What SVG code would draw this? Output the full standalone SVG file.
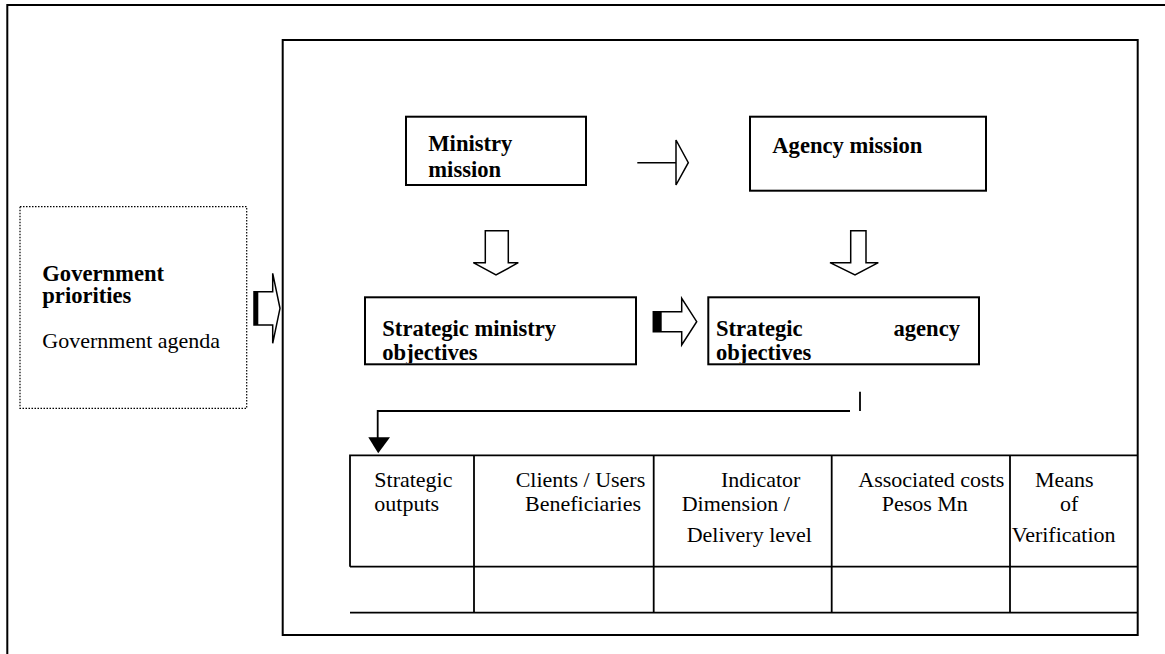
<svg xmlns="http://www.w3.org/2000/svg" width="1165" height="654" viewBox="0 0 1165 654">
<style>
.ln{fill:none;stroke:#000;stroke-width:2}
.tl{fill:none;stroke:#000;stroke-width:1.8}
.hol{fill:#fff;stroke:#000;stroke-width:1.5;stroke-linejoin:miter}
.b{font-family:"Liberation Serif","Times New Roman",serif;font-weight:bold;font-size:22.6px;fill:#000}
.r{font-family:"Liberation Serif","Times New Roman",serif;font-size:22px;fill:#000}
</style>
<defs>
<clipPath id="cMin"><rect x="366" y="298" width="269" height="65.3"/></clipPath>
<clipPath id="cAg"><rect x="709.3" y="298" width="268.7" height="65.3"/></clipPath>
</defs>
<rect width="1165" height="654" fill="#fff"/>
<g id="frames">
<polyline class="ln" points="7.3,654 7.3,5 1165,5"/>
<rect class="ln" x="282.7" y="40" width="855" height="595"/>
</g>
<g id="gov">
<rect x="20" y="206.7" width="226.7" height="201.6" fill="none" stroke="#000" stroke-width="1.2" stroke-dasharray="1.5,1.5"/>
<text class="b" x="42.3" y="280.7">Government</text>
<text class="b" x="42.3" y="303.3">priorities</text>
<text class="r" x="42.3" y="347.7">Government agenda</text>
</g>
<g id="ministry-mission">
<rect class="ln" x="406" y="116.7" width="180" height="68.3"/>
<text class="b" x="428.3" y="151">Ministry</text>
<text class="b" x="428.3" y="176.7">mission</text>
</g>
<g id="agency-mission">
<rect class="ln" x="750" y="116.7" width="236" height="74"/>
<text class="b" x="772.3" y="153.3">Agency mission</text>
</g>
<g id="strategic-ministry">
<rect class="ln" x="365" y="297.3" width="271" height="67"/>
<g clip-path="url(#cMin)">
<text class="b" x="382.3" y="335.7">Strategic ministry</text>
<text class="b" x="382.3" y="360">objectives</text>
</g>
</g>
<g id="strategic-agency">
<rect class="ln" x="708.3" y="297.3" width="270.7" height="67"/>
<g clip-path="url(#cAg)">
<text class="b" x="716" y="335.7">Strategic</text>
<text class="b" x="960" y="335.7" text-anchor="end">agency</text>
<text class="b" x="716" y="360">objectives</text>
</g>
</g>
<g id="table">
<path class="tl" d="M350,566.7 L350,455.3 L1137.7,455.3 M350,566.7 L1137.7,566.7 M350,612.7 L1137.7,612.7 M474,455.3 L474,612.7 M653.7,455.3 L653.7,612.7 M831.7,455.3 L831.7,612.7 M1010,455.3 L1010,612.7"/>
<text class="r" x="374.3" y="486.7">Strategic</text>
<text class="r" x="374.3" y="510.7">outputs</text>
<text class="r" x="515.7" y="486.7">Clients / Users</text>
<text class="r" x="525" y="510.7">Beneficiaries</text>
<text class="r" x="721" y="486.7">Indicator</text>
<text class="r" x="681.7" y="510.7">Dimension /</text>
<text class="r" x="686.7" y="541.7">Delivery level</text>
<text class="r" x="858.3" y="486.7">Associated costs</text>
<text class="r" x="881.7" y="510.7">Pesos Mn</text>
<text class="r" x="1035" y="486.7">Means</text>
<text class="r" x="1060" y="510.7">of</text>
<text class="r" x="1011.7" y="541.7">Verification</text>
</g>
<g id="connectors">
<path class="hol" d="M254,291.7 L272.7,291.7 L272.7,273.3 L280,308.3 L272.7,343.3 L272.7,325 L254,325 Z"/>
<rect x="254" y="291.7" width="4.3" height="33.3" fill="#000"/>
<line x1="637.3" y1="162.7" x2="676" y2="162.7" stroke="#000" stroke-width="1.5"/>
<path class="hol" d="M676,140 L688.3,162.7 L676,185 Z"/>
<path class="hol" d="M485.3,230.7 L508.3,230.7 L508.3,262.7 L518.3,262.7 L496,275 L473.3,262.7 L485.3,262.7 Z"/>
<path class="hol" d="M850.7,230.7 L866,230.7 L866,262.7 L878.3,262.7 L855,275 L830,262.7 L850.7,262.7 Z"/>
<path class="hol" d="M653.3,311.7 L681.7,311.7 L681.7,298.3 L696.7,321.7 L681.7,345 L681.7,331.7 L653.3,331.7 Z"/>
<rect x="653.3" y="311.7" width="8.4" height="20" fill="#000"/>
<line x1="860" y1="391.7" x2="860" y2="411" stroke="#000" stroke-width="1.8"/>
<polyline class="tl" points="850,411 377.7,411 377.7,438"/>
<polygon points="368.3,437.3 390,437.3 378.2,453.3" fill="#000"/>
</g>
</svg>
